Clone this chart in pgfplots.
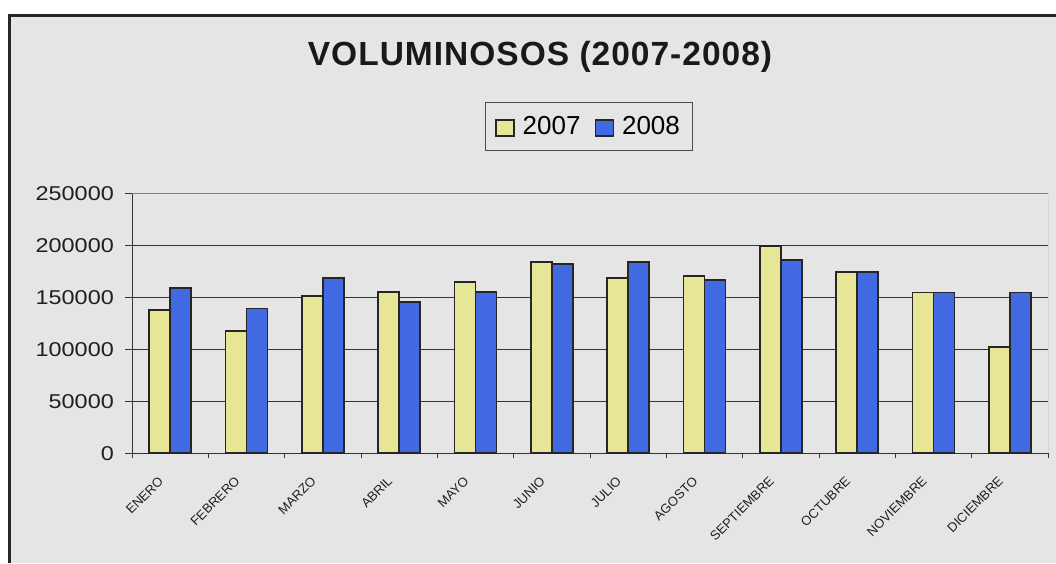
\documentclass[border=0pt]{standalone}
\usepackage{fontspec}
\setmainfont{Liberation Sans}
\newfontfamily\titlefont[LetterSpace=3]{Liberation Sans}
\newfontfamily\tickfont[FakeStretch=1.17]{Liberation Sans}
\usepackage{pgfplots}
\pgfplotsset{compat=1.18}
\definecolor{bg}{HTML}{E5E5E5}
\definecolor{yel}{HTML}{E6E696}
\definecolor{blu}{HTML}{4169E1}
\begin{document}
\begin{tikzpicture}
\path[use as bounding box] (0,0) rectangle (1056pt,563pt);
\fill[bg] (9pt,0) rectangle (1056pt,548pt);
\draw[black!85, line width=2.5pt] (9.5pt,0) -- (9.5pt,547.5pt) -- (1056pt,547.5pt);
\node[anchor=base, font=\titlefont\bfseries\fontsize{33.5}{36}\selectfont, text=black!90] at (540pt,497.3pt) {VOLUMINOSOS (2007-2008)};
\begin{axis}[
  at={(132pt,109.7pt)}, anchor=south west,
  scale only axis, width=916pt, height=260pt,
  xmin=-0.5, xmax=11.5, ymin=0, ymax=250000,
  scaled y ticks=false,
  ybar=0pt, bar width=21pt,
  axis lines=left, axis line style={-, black!80, line width=1pt},
  xtick={0,...,11},
  xticklabels={ENERO,FEBRERO,MARZO,ABRIL,MAYO,JUNIO,JULIO,AGOSTO,SEPTIEMBRE,OCTUBRE,NOVIEMBRE,DICIEMBRE},
  major x tick style={draw=none},
  minor xtick={-0.5,0.5,...,11.5},
  ytick={0,50000,100000,150000,200000,250000},
  yticklabels={0,50000,100000,150000,200000,250000},
  tick align=outside,
  tick style={black!80, line width=0.8pt},
  major tick length=7pt, minor tick length=5pt,
  ymajorgrids, grid style={black!80, line width=0.8pt},
  tick label style={text=black!88},
  yticklabel style={font=\tickfont\fontsize{20}{20}\selectfont, anchor=east, inner sep=0pt, xshift=-11pt},
  xticklabel style={font=\fontsize{13}{13}\selectfont, rotate=45, anchor=east, inner sep=0pt, xshift=-19.6pt, yshift=-6.7pt},
  legend style={at={(0.3854,1.351)}, anchor=north west, draw=black!70, fill=bg,
    font=\fontsize{26}{28}\selectfont, legend columns=2,
    inner xsep=10pt, inner ysep=12pt,
    /tikz/every odd column/.append style={column sep=6pt},
    /tikz/every even column/.append style={column sep=12pt}},
  legend cell align=left,
]
\addplot[fill=yel, draw=black!85, line width=1.8pt,
  legend image code/.code={\draw[fill=yel, draw=black!85, line width=1.5pt] (0pt,-10pt) rectangle (18pt,6.3pt);}]
  coordinates {(0,137600) (1,117700) (2,151000) (3,154900) (4,164500) (5,184000) (6,168400) (7,170400) (8,199400) (9,174100) (10,154600) (11,102400)};
\addplot[fill=blu, draw=black!85, line width=1.8pt,
  legend image code/.code={\draw[fill=blu, draw=black!85, line width=1.5pt] (0pt,-10pt) rectangle (18pt,6.3pt);}]
  coordinates {(0,159000) (1,139300) (2,168600) (3,145300) (4,154900) (5,181800) (6,183700) (7,166600) (8,185600) (9,174100) (10,154600) (11,154600)};
\legend{2007,2008}
\draw[black!50, line width=1pt] (rel axis cs:0,1) -- (rel axis cs:1,1) -- (rel axis cs:1,0);
\end{axis}
\end{tikzpicture}
\end{document}
